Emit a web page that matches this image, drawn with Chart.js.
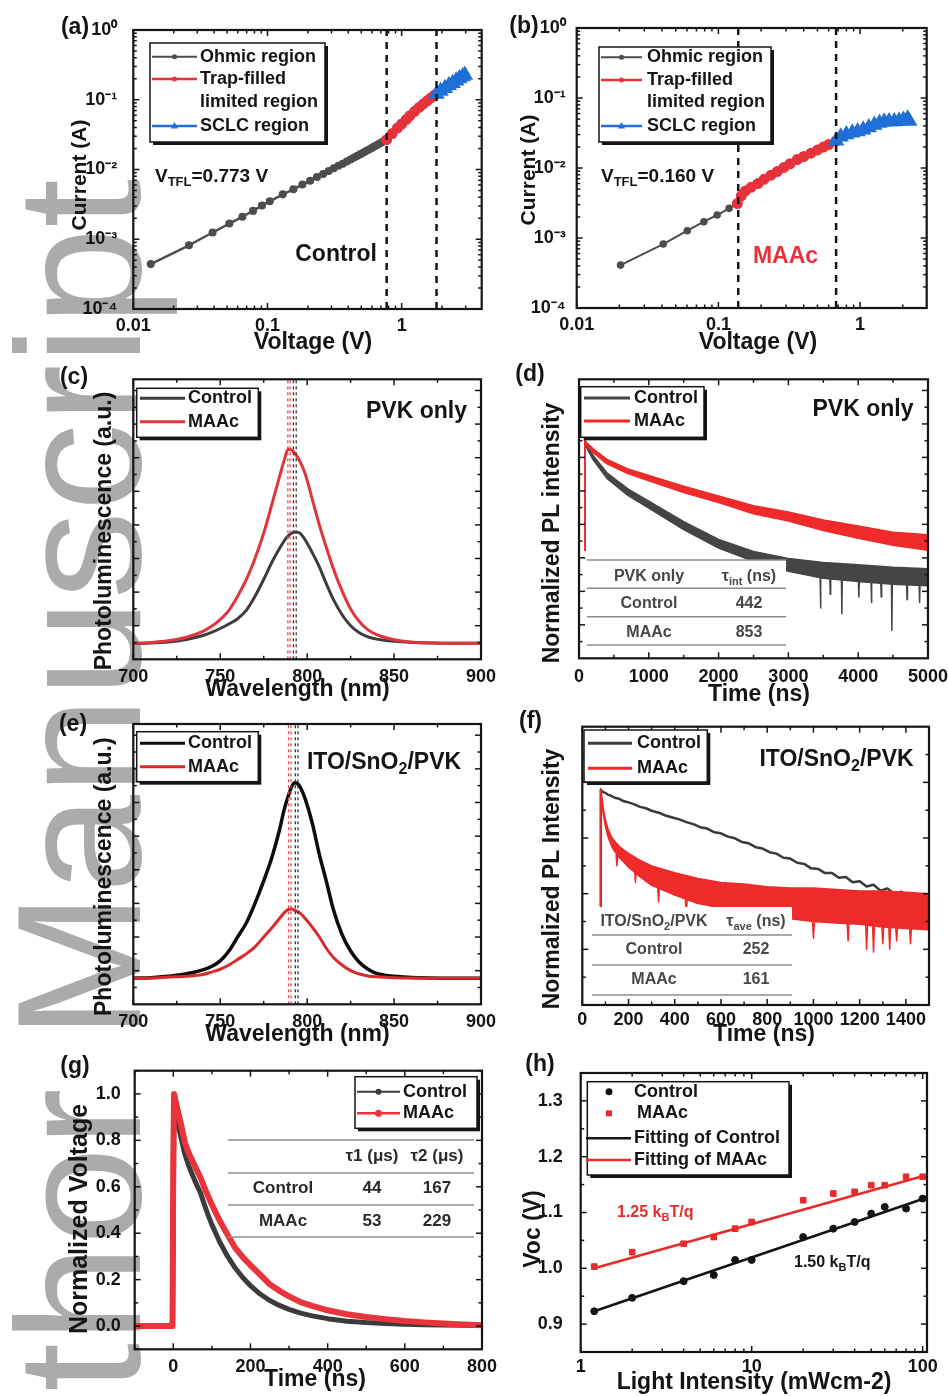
<!DOCTYPE html>
<html>
<head>
<meta charset="utf-8">
<title>SCLC, PL, TRPL, TPV and Voc-light intensity</title>
<script src="https://cdn.jsdelivr.net/npm/chart.js@4.4.1/dist/chart.umd.min.js"></script>
<style>
  html, body { margin: 0; padding: 0; background: #fff; }
  body { position: relative; width: 948px; height: 1396px; overflow: hidden; }
  #wm { position: absolute; left: -9px; top: 1607px; transform-origin: 0 0; transform: rotate(-90deg);
        font: 176px 'Liberation Sans', Arial, sans-serif; line-height: 1; color: #ababab; white-space: nowrap; }
  canvas { position: absolute; }
</style>
</head>
<body>
<div id="wm">Author Manuscript</div>
<canvas id="pa"></canvas>
<canvas id="pb"></canvas>
<canvas id="pc"></canvas>
<canvas id="pd"></canvas>
<canvas id="pe"></canvas>
<canvas id="pf"></canvas>
<canvas id="pg"></canvas>
<canvas id="ph"></canvas>
<script>
const FAMILY = "'Liberation Sans', Arial, Helvetica, sans-serif";
const INK = '#141414';
const GRAY = '#4d4d4d';
const RED = '#e6323a';
const BLUE = '#1f6fd6';
const TITLE = 23;   // axis titles
const NOTE = 23;    // in-plot annotations and panel letters

// ---- (a) SCLC, control ----
const aXTicks = [0.01, 0.1, 1];
const aXLabels = ['0.01', '0.1', '1'];
const logYTicks = [1e-4, 1e-3, 1e-2, 1e-1, 1];
const logYLabels = ['10\u207B\u2074', '10\u207B\u00B3', '10\u207B\u00B2', '10\u207B\u00B9', '10\u2070'];
const aOhmicV = [0.0135, 0.026, 0.039, 0.052, 0.065, 0.078, 0.091, 0.104, 0.13, 0.156, 0.182, 0.208, 0.234, 0.26, 0.286, 0.312, 0.338, 0.364, 0.39, 0.416, 0.442, 0.468, 0.494, 0.52, 0.546, 0.572, 0.598, 0.624, 0.65, 0.676, 0.702, 0.728, 0.754, 0.773];
const aOhmicI = [4.4e-4, 8.2e-4, 1.25e-3, 1.68e-3, 2.1e-3, 2.55e-3, 3.05e-3, 3.5e-3, 4.4e-3, 5.2e-3, 6.1e-3, 6.9e-3, 7.8e-3, 8.6e-3, 9.5e-3, 0.0104, 0.0113, 0.0121, 0.013, 0.0139, 0.0148, 0.0157, 0.0166, 0.0175, 0.0185, 0.0194, 0.0203, 0.0213, 0.0222, 0.0232, 0.0242, 0.0252, 0.0262, 0.0268];
const aTrapV = [0.773, 0.85, 0.93, 1.0, 1.08, 1.15, 1.25, 1.35, 1.45, 1.55, 1.65, 1.75, 1.82];
const aTrapI = [0.0268, 0.0327, 0.0392, 0.0449, 0.052, 0.0588, 0.0682, 0.0776, 0.0871, 0.0966, 0.106, 0.1156, 0.121];
const aSclcV = [1.82, 1.95, 2.1, 2.25, 2.4, 2.55, 2.7, 2.85, 2.96];
const aSclcI = [0.121, 0.1333, 0.146, 0.1595, 0.173, 0.187, 0.201, 0.215, 0.2255];
const aBounds = [0.773, 1.82];

// ---- (b) SCLC, MAAc ----
const bXTicks = [0.01, 0.1, 1];
const bXLabels = ['0.01', '0.1', '1'];
const bOhmicV = [0.0204, 0.0408, 0.0603, 0.079, 0.098, 0.119, 0.136];
const bOhmicI = [4.1e-4, 8.2e-4, 1.27e-3, 1.71e-3, 2.13e-3, 2.65e-3, 3.1e-3];
const bTrapV = [0.136, 0.145, 0.155, 0.17, 0.19, 0.21, 0.235, 0.26, 0.29, 0.32, 0.36, 0.4, 0.45, 0.5, 0.55, 0.6, 0.677];
const bTrapI = [3.1e-3, 4.0e-3, 4.7e-3, 5.3e-3, 6.0e-3, 6.9e-3, 7.9e-3, 8.9e-3, 0.0102, 0.0115, 0.0132, 0.0146, 0.0163, 0.0181, 0.0199, 0.0216, 0.0245];
const bSclcV = [0.677, 0.73, 0.8, 0.88, 0.96, 1.05, 1.15, 1.26, 1.37, 1.48, 1.6, 1.74, 1.88, 2.02, 2.16, 2.22];
const bSclcI = [0.0245, 0.0279, 0.03, 0.0318, 0.0332, 0.0352, 0.0378, 0.041, 0.044, 0.0458, 0.0462, 0.046, 0.047, 0.0485, 0.0505, 0.047];
const bBounds = [0.138, 0.677];

// ---- (c)/(e) steady-state PL ----
const plXTicks = [700, 750, 800, 850, 900];
const plXLabels = ['700', '750', '800', '850', '900'];
const plWave = [700, 710, 720, 730, 740, 745, 750, 755, 760, 765, 770, 775, 780, 784, 787, 789, 791, 793, 796, 799, 803, 807, 811, 815, 820, 825, 830, 835, 840, 850, 860, 870, 885, 900];
const cControl = [0.056, 0.058, 0.062, 0.07, 0.085, 0.096, 0.11, 0.126, 0.145, 0.175, 0.225, 0.285, 0.35, 0.395, 0.425, 0.44, 0.45, 0.455, 0.45, 0.425, 0.38, 0.33, 0.27, 0.215, 0.16, 0.12, 0.095, 0.08, 0.072, 0.064, 0.06, 0.058, 0.057, 0.057];
const cMaac = [0.057, 0.06, 0.066, 0.078, 0.1, 0.118, 0.142, 0.175, 0.225, 0.285, 0.36, 0.45, 0.56, 0.65, 0.715, 0.75, 0.748, 0.735, 0.705, 0.66, 0.57, 0.48, 0.4, 0.325, 0.245, 0.18, 0.135, 0.105, 0.088, 0.07, 0.062, 0.059, 0.057, 0.057];
const cPeakMaac = [788.9, 790.2];
const cPeakControl = [792.1, 793.7];
const eControl = [0.093, 0.095, 0.1, 0.108, 0.123, 0.135, 0.155, 0.19, 0.24, 0.29, 0.36, 0.44, 0.53, 0.62, 0.7, 0.74, 0.775, 0.79, 0.775, 0.73, 0.645, 0.535, 0.44, 0.34, 0.25, 0.19, 0.15, 0.125, 0.11, 0.1, 0.096, 0.094, 0.093, 0.093];
const eMaac = [0.093, 0.094, 0.097, 0.1, 0.106, 0.115, 0.125, 0.14, 0.16, 0.18, 0.205, 0.24, 0.275, 0.305, 0.328, 0.338, 0.34, 0.335, 0.325, 0.305, 0.275, 0.24, 0.2, 0.168, 0.14, 0.12, 0.108, 0.101, 0.098, 0.095, 0.094, 0.093, 0.093, 0.093];
const ePeakMaac = [789.3, 790.7];
const ePeakControl = [793.2, 794.7];

// ---- (d) TRPL, PVK only: noisy traces as upper/lower envelopes ----
const dXTicks = [0, 1000, 2000, 3000, 4000, 5000];
const dXLabels = ['0', '1000', '2000', '3000', '4000', '5000'];
const dBandTime = [80, 82, 100, 200, 400, 700, 1000, 1500, 2000, 2500, 3000, 3500, 4000, 4500, 5000];
const dMaacHi = [0.387, 0.785, 0.775, 0.752, 0.713, 0.679, 0.655, 0.617, 0.582, 0.547, 0.524, 0.496, 0.474, 0.452, 0.443];
const dMaacLo = [0.387, 0.775, 0.765, 0.738, 0.697, 0.662, 0.636, 0.594, 0.558, 0.518, 0.492, 0.458, 0.43, 0.405, 0.387];
const dControlHi = [0.387, 0.785, 0.772, 0.728, 0.665, 0.607, 0.563, 0.49, 0.426, 0.383, 0.358, 0.343, 0.335, 0.326, 0.321];
const dControlLo = [0.387, 0.775, 0.76, 0.712, 0.645, 0.584, 0.538, 0.461, 0.395, 0.348, 0.312, 0.287, 0.275, 0.265, 0.26];
const dSpikeTime = [3460, 3600, 3766, 4010, 4190, 4330, 4483, 4700, 4880];
const dSpikeBase = [0.289, 0.284, 0.281, 0.275, 0.272, 0.269, 0.266, 0.263, 0.261];
const dSpikeDepth = [0.18, 0.23, 0.16, 0.22, 0.2, 0.22, 0.1, 0.21, 0.2];
const dTableRows = [['Control', '442'], ['MAAc', '853']];

// ---- (f) TRPL, ITO/SnO2/PVK ----
const fXTicks = [0, 200, 400, 600, 800, 1000, 1200, 1400];
const fXLabels = ['0', '200', '400', '600', '800', '1000', '1200', '1400'];
const fTime = [78, 80, 90, 100, 110, 125, 140, 160, 180, 200, 225, 250, 275, 300, 330, 360, 390, 420, 450, 480, 510, 540, 570, 600, 630, 660, 690, 720, 750, 780, 810, 840, 870, 900, 930, 960, 990, 1020, 1050, 1080, 1110, 1140, 1170, 1200, 1230, 1260, 1290, 1320, 1350, 1380, 1410, 1440, 1470, 1500];
const fControl = [0.354, 0.773, 0.765, 0.762, 0.756, 0.752, 0.745, 0.741, 0.732, 0.728, 0.721, 0.712, 0.707, 0.698, 0.691, 0.681, 0.674, 0.667, 0.657, 0.65, 0.639, 0.634, 0.621, 0.617, 0.605, 0.599, 0.586, 0.581, 0.567, 0.562, 0.549, 0.544, 0.529, 0.526, 0.511, 0.507, 0.491, 0.489, 0.474, 0.474, 0.457, 0.46, 0.441, 0.445, 0.426, 0.432, 0.411, 0.419, 0.399, 0.407, 0.386, 0.396, 0.373, 0.383];
const fBandTime = [78, 80, 90, 100, 110, 125, 140, 160, 180, 200, 250, 300, 400, 500, 600, 700, 800, 900, 1000, 1100, 1200, 1300, 1400, 1500];
const fMaacHi = [0.354, 0.778, 0.71, 0.667, 0.636, 0.606, 0.588, 0.57, 0.557, 0.545, 0.52, 0.5, 0.475, 0.455, 0.44, 0.435, 0.425, 0.42, 0.42, 0.415, 0.41, 0.41, 0.405, 0.4];
const fMaacLo = [0.354, 0.768, 0.69, 0.643, 0.608, 0.574, 0.552, 0.53, 0.513, 0.495, 0.46, 0.43, 0.395, 0.365, 0.35, 0.335, 0.325, 0.31, 0.3, 0.295, 0.29, 0.28, 0.275, 0.27];
const fSpikeTime = [150, 230, 330, 450, 560, 650, 1000, 1150, 1230, 1260, 1300, 1330, 1360, 1420];
const fSpikeBase = [0.54, 0.49, 0.43, 0.38, 0.355, 0.34, 0.3, 0.292, 0.29, 0.288, 0.28, 0.28, 0.278, 0.275];
const fSpikeDepth = [0.5, 0.44, 0.37, 0.33, 0.3, 0.29, 0.24, 0.23, 0.2, 0.19, 0.22, 0.2, 0.23, 0.22];
const fTableRows = [['Control', '252'], ['MAAc', '161']];

// ---- (g) transient photovoltage ----
const gXTicks = [0, 200, 400, 600, 800];
const gXLabels = ['0', '200', '400', '600', '800'];
const gYTicks = [0, 0.2, 0.4, 0.6, 0.8, 1.0];
const gYLabels = ['0.0', '0.2', '0.4', '0.6', '0.8', '1.0'];
const gTime = [-100, -80, -60, -40, -20, -2, 0, 2, 10, 20, 30, 40, 50, 60, 70, 80, 90, 100, 120, 140, 160, 180, 200, 225, 250, 275, 300, 330, 360, 400, 450, 500, 550, 600, 650, 700, 750, 800];
const gControl = [0, 0, 0, 0, 0, 0, 0.45, 0.96, 0.89, 0.81, 0.74, 0.69, 0.65, 0.61, 0.576, 0.526, 0.479, 0.437, 0.363, 0.302, 0.251, 0.209, 0.174, 0.138, 0.11, 0.089, 0.072, 0.056, 0.044, 0.032, 0.021, 0.015, 0.011, 0.008, 0.006, 0.005, 0.004, 0.003];
const gMaac = [0, 0, 0, 0, 0, 0, 0.72, 1.0, 0.94, 0.87, 0.79, 0.745, 0.71, 0.675, 0.642, 0.6, 0.56, 0.523, 0.455, 0.395, 0.338, 0.297, 0.262, 0.222, 0.18, 0.152, 0.128, 0.103, 0.087, 0.068, 0.051, 0.039, 0.03, 0.022, 0.016, 0.011, 0.007, 0.004];
const gTableHead = ['\u03C41 (\u03BCs)', '\u03C42 (\u03BCs)'];
const gTableRows = [['Control', '44', '167'], ['MAAc', '53', '229']];

// ---- (h) Voc vs light intensity ----
const hXTicks = [1, 10, 100];
const hXLabels = ['1', '10', '100'];
const hYTicks = [0.9, 1.0, 1.1, 1.2, 1.3];
const hYLabels = ['0.9', '1.0', '1.1', '1.2', '1.3'];
const hIntensity = [1.2, 2, 4, 6, 8, 10, 20, 30, 40, 50, 60, 80, 100];
const hControl = [0.923, 0.947, 0.977, 0.988, 1.015, 1.015, 1.056, 1.071, 1.083, 1.098, 1.11, 1.107, 1.125];
const hMaac = [1.003, 1.029, 1.044, 1.056, 1.071, 1.083, 1.122, 1.134, 1.137, 1.149, 1.149, 1.164, 1.164];
const hFitX = [1.2, 102];
const hFitControl = [0.923, 1.125];
const hFitMaac = [1.0, 1.166];

Chart.defaults.font.family = FAMILY;
Chart.defaults.font.size = 18;
Chart.defaults.font.weight = 'bold';
Chart.defaults.color = INK;
Chart.defaults.animation = false;
Chart.defaults.responsive = false;
Chart.defaults.devicePixelRatio = 1;
Chart.defaults.elements.point.radius = 0;
Chart.defaults.elements.line.borderJoinStyle = 'round';

const pts = (xs, ys) => xs.map((x, i) => ({ x, y: ys[i] }));
const vline = (x, y0, y1, color, width, dash) => ({
  data: [{ x, y: y0 }, { x, y: y1 }], borderColor: color, borderWidth: width,
  borderDash: dash, borderCapStyle: 'butt', pointRadius: 0, order: 0
});
// noisy trace drawn as a filled band between its upper and lower envelope
const band = (xs, hi, lo, color, order) => [
  { data: pts(xs, hi), borderColor: color, borderWidth: 1.5, backgroundColor: color, fill: false, order },
  { data: pts(xs, lo), borderColor: color, borderWidth: 1.5, backgroundColor: color, fill: '-1', order }
];
// narrow downward noise spikes
const spikes = (ts, base, depth, color, half, order) => ({
  data: ts.flatMap((t, i) => [{ x: t - half, y: base[i] }, { x: t, y: depth[i] }, { x: t + half, y: base[i] }, { x: t + half * 1.01, y: null }]),
  borderColor: color, borderWidth: 1.5, spanGaps: false, order
});
function steps(a, b, s) { const out = []; for (let v = a; v <= b + 1e-9; v += s) out.push(+v.toFixed(6)); return out; }
function minorLog(lo, hi) {
  const out = [];
  for (let e = Math.floor(Math.log10(lo)); e <= Math.ceil(Math.log10(hi)); e++)
    for (let m = 2; m <= 9; m++) { const v = m * Math.pow(10, e); if (v > lo && v < hi) out.push(v); }
  return out;
}
function axis(type, min, max, ticks, labels, show, pad) {
  return {
    type, min, max,
    grid: { display: false }, border: { display: false },
    ticks: { display: show, padding: pad, autoSkip: false, maxRotation: 0, minRotation: 0,
             callback: (v, i) => labels[i] },
    afterBuildTicks: s => { s.ticks = ticks.map(v => ({ value: v })); }
  };
}

// ---- text helpers ----
function drawRich(ctx, parts, x, y, size, color, align) {
  const segs = parts.map(p => Array.isArray(p) ? { s: p[0], sub: true } : { s: p, sub: false });
  const fnt = sg => `bold ${sg.sub ? Math.round(size * 0.68) : size}px ${FAMILY}`;
  let w = 0;
  segs.forEach(sg => { ctx.font = fnt(sg); sg.w = ctx.measureText(sg.s).width; w += sg.w; });
  let cx = align === 'center' ? x - w / 2 : align === 'right' ? x - w : x;
  ctx.fillStyle = color; ctx.textAlign = 'left'; ctx.textBaseline = 'middle';
  segs.forEach(sg => { ctx.font = fnt(sg); ctx.fillText(sg.s, cx, sg.sub ? y + size * 0.3 : y); cx += sg.w; });
}
function drawText(ctx, t) {
  ctx.save();
  ctx.translate(t.x, t.y);
  if (t.rot) ctx.rotate(-Math.PI / 2);
  drawRich(ctx, t.t, 0, 0, t.size, t.color || INK, t.align || 'center');
  ctx.restore();
}
function drawMarker(ctx, kind, x, y, r, color) {
  ctx.fillStyle = color;
  ctx.beginPath();
  if (kind === 'rect') ctx.rect(x - r, y - r, 2 * r, 2 * r);
  else if (kind === 'triangle') { ctx.moveTo(x, y - r * 1.3); ctx.lineTo(x + r * 1.2, y + r * 0.8); ctx.lineTo(x - r * 1.2, y + r * 0.8); ctx.closePath(); }
  else ctx.arc(x, y, r, 0, Math.PI * 2);
  ctx.fill();
}
function drawLegend(ctx, L) {
  const [x, y, w, h] = L.box;
  ctx.fillStyle = INK; ctx.fillRect(x + 3, y + 3, w, h);
  ctx.fillStyle = '#fff'; ctx.fillRect(x, y, w, h);
  ctx.strokeStyle = INK; ctx.lineWidth = 1.5; ctx.strokeRect(x, y, w, h);
  L.items.forEach(it => {
    if (it.lw) {
      ctx.strokeStyle = it.color; ctx.lineWidth = it.lw; ctx.lineCap = 'butt';
      ctx.beginPath(); ctx.moveTo(it.x0, it.y); ctx.lineTo(it.x1, it.y); ctx.stroke();
    }
    if (it.marker) drawMarker(ctx, it.marker, it.mx !== undefined ? it.mx : (it.x0 + it.x1) / 2, it.y, it.ms || 3, it.color);
    drawRich(ctx, it.text, it.tx, it.y, 18, INK, 'left');
  });
}
function drawTable(ctx, T) {
  if (T.fill) { ctx.fillStyle = '#fff'; ctx.fillRect(T.fill[0], T.fill[1], T.fill[2], T.fill[3]); }
  ctx.strokeStyle = '#8c8c8c'; ctx.lineWidth = 1.5;
  T.lines.forEach(yy => { ctx.beginPath(); ctx.moveTo(T.x0, yy); ctx.lineTo(T.x1, yy); ctx.stroke(); });
  T.cells.forEach(c => drawRich(ctx, c[0], c[1], c[2], T.size, T.color, 'center'));
}
function tableCells(head, headCols, rows, cols, ys) {
  const cells = head.map((h, i) => [h, headCols[i], ys[0]]);
  rows.forEach((r, j) => r.forEach((c, i) => cells.push([[c], cols[i], ys[j + 1]])));
  return cells;
}
function drawFrame(chart, d) {
  const { ctx, chartArea: a } = chart;
  const sx = chart.scales.x, sy = chart.scales.y;
  ctx.save();
  ctx.strokeStyle = INK; ctx.lineCap = 'butt';
  const seg = (x0, y0, x1, y1) => { ctx.beginPath(); ctx.moveTo(x0, y0); ctx.lineTo(x1, y1); ctx.stroke(); };
  ctx.lineWidth = 1.5;
  const xt = (vals, len) => vals.forEach(v => {
    const p = sx.getPixelForValue(v); if (p < a.left - 0.5 || p > a.right + 0.5) return;
    seg(p, a.bottom, p, a.bottom - len); seg(p, a.top, p, a.top + len);
  });
  const yt = (vals, len) => vals.forEach(v => {
    const p = sy.getPixelForValue(v); if (p < a.top - 0.5 || p > a.bottom + 0.5) return;
    seg(a.left, p, a.left + len, p); seg(a.right, p, a.right - len, p);
  });
  xt(d.xMajor, 6); xt(d.xMinor, 3.5); yt(d.yMajor, 6); yt(d.yMinor, 3.5);
  ctx.lineWidth = 2.2;
  ctx.strokeRect(a.left, a.top, a.right - a.left, a.bottom - a.top);
  ctx.restore();
}

const DECOR = {};
const decorPlugin = {
  id: 'decor',
  afterDraw(chart) {
    const d = DECOR[chart.canvas.id];
    if (!d) return;
    const ctx = chart.ctx;
    ctx.save(); ctx.translate(-d.ox, -d.oy);
    if (d.table) drawTable(ctx, d.table);
    ctx.restore();
    drawFrame(chart, d);
    ctx.save(); ctx.translate(-d.ox, -d.oy);
    if (d.legend) drawLegend(ctx, d.legend);
    d.texts.forEach(t => drawText(ctx, t));
    ctx.restore();
  }
};

function panel(id, box, area, datasets, scales, decor) {
  const cv = document.getElementById(id);
  cv.width = box[2]; cv.height = box[3];
  cv.style.left = box[0] + 'px'; cv.style.top = box[1] + 'px';
  const YW = 60, XH = 30;
  scales.x.afterFit = s => { s.height = XH; };
  scales.y.afterFit = s => { s.width = YW; };
  DECOR[id] = Object.assign({ ox: box[0], oy: box[1], xMinor: [], yMinor: [] }, decor);
  return new Chart(cv, {
    type: 'line',
    data: { datasets },
    options: {
      layout: { padding: {
        left: area[0] - box[0] - YW, top: area[1] - box[1],
        right: box[0] + box[2] - area[2], bottom: box[1] + box[3] - area[3] - XH } },
      scales,
      plugins: { legend: { display: false }, tooltip: { enabled: false } }
    },
    plugins: [decorPlugin]
  });
}
const sclcLegend = (x, y, w, h, x0, x1, tx, rows) => ({
  box: [x, y, w, h],
  items: [
    { y: rows[0], x0, x1, tx, color: GRAY, lw: 2, marker: 'circle', ms: 2.5, text: ['Ohmic region'] },
    { y: rows[1], x0, x1, tx, color: RED, lw: 2.5, marker: 'circle', ms: 2.5, text: ['Trap-filled'] },
    { y: rows[2], tx, text: ['limited region'] },
    { y: rows[3], x0, x1, tx, color: BLUE, lw: 2.5, marker: 'triangle', ms: 3, text: ['SCLC region'] }
  ]
});
const pairLegend = (x, y, w, h, x0, x1, tx, rows, c1, c2, lw) => ({
  box: [x, y, w, h],
  items: [
    { y: rows[0], x0, x1, tx, color: c1, lw, text: ['Control'] },
    { y: rows[1], x0, x1, tx, color: c2, lw, text: ['MAAc'] }
  ]
});

// ---------- (a) ----------
panel('pa', [0, 0, 520, 362], [133.3, 30, 481.7, 309], [
  ...aBounds.map(v => vline(v, 1e-4, 1, INK, 2.5, [7, 6])),
  { data: pts(aSclcV, aSclcI), borderColor: BLUE, borderWidth: 7, pointRadius: 2.5, pointStyle: 'triangle', pointBackgroundColor: BLUE, pointBorderColor: BLUE, order: 1 },
  { data: pts(aTrapV, aTrapI), borderColor: RED, borderWidth: 6, pointRadius: 2.5, pointBackgroundColor: RED, pointBorderColor: RED, order: 2 },
  { data: pts(aOhmicV, aOhmicI), borderColor: GRAY, borderWidth: 2.5, pointRadius: 2.8, pointBackgroundColor: GRAY, pointBorderColor: GRAY, order: 3 }
], {
  x: axis('logarithmic', 0.01, 3.95, aXTicks, aXLabels, true, -2),
  y: axis('logarithmic', 1e-4, 1, logYTicks, logYLabels, true, 8)
}, {
  xMajor: aXTicks, xMinor: minorLog(0.01, 3.95), yMajor: logYTicks, yMinor: minorLog(1e-4, 1),
  legend: sclcLegend(150, 43, 175, 99, 152, 197, 200, [56.7, 79, 102.3, 126]),
  texts: [
    { t: ['(a)'], x: 75, y: 28, size: NOTE },
    { t: ['Current (A)'], x: 80, y: 175, size: 21, rot: true },
    { t: ['Voltage (V)'], x: 313, y: 343, size: TITLE },
    { t: ['V', ['TFL'], '=0.773 V'], x: 155, y: 177, size: 19, align: 'left' },
    { t: ['Control'], x: 377, y: 255, size: NOTE, align: 'right' }
  ]
});

// ---------- (b) ----------
panel('pb', [480, 0, 468, 362], [576.7, 28, 926.7, 308], [
  ...bBounds.map(v => vline(v, 1e-4, 1, INK, 2.5, [7, 6])),
  { data: pts(bSclcV, bSclcI), borderColor: BLUE, borderWidth: 7, pointRadius: 2.5, pointStyle: 'triangle', pointBackgroundColor: BLUE, pointBorderColor: BLUE, order: 1 },
  { data: pts(bTrapV, bTrapI), borderColor: RED, borderWidth: 6, pointRadius: 2.5, pointBackgroundColor: RED, pointBorderColor: RED, order: 2 },
  { data: pts(bOhmicV, bOhmicI), borderColor: GRAY, borderWidth: 2, pointRadius: 2.8, pointBackgroundColor: GRAY, pointBorderColor: GRAY, order: 3 }
], {
  x: axis('logarithmic', 0.01, 2.95, bXTicks, bXLabels, true, -2),
  y: axis('logarithmic', 1e-4, 1, logYTicks, logYLabels, true, 3)
}, {
  xMajor: bXTicks, xMinor: minorLog(0.01, 2.95), yMajor: logYTicks, yMinor: minorLog(1e-4, 1),
  legend: sclcLegend(599, 47, 172, 95, 601, 642, 647, [57.3, 80, 102.3, 126]),
  texts: [
    { t: ['(b)'], x: 524, y: 27, size: NOTE },
    { t: ['Current (A)'], x: 529, y: 170, size: 21, rot: true },
    { t: ['Voltage (V)'], x: 758, y: 343, size: TITLE },
    { t: ['V', ['TFL'], '=0.160 V'], x: 601, y: 177, size: 19, align: 'left' },
    { t: ['MAAc'], x: 785.5, y: 257, size: NOTE, color: RED }
  ]
});

// ---------- (c) ----------
const plYMajor = steps(0.12, 0.96, 0.12);
const plYMinor = steps(0.06, 0.9, 0.12);
panel('pc', [0, 352, 520, 356], [133.3, 379.3, 481, 659.3], [
  ...cPeakMaac.map(v => vline(v, 0, 1, '#d9505a', 1.3, [3, 3])),
  ...cPeakControl.map(v => vline(v, 0, 1, '#333', 1.3, [3, 3])),
  { data: pts(plWave, cMaac), borderColor: '#e0353d', borderWidth: 3, cubicInterpolationMode: 'monotone', order: 1 },
  { data: pts(plWave, cControl), borderColor: '#3d3d3d', borderWidth: 3, cubicInterpolationMode: 'monotone', order: 2 }
], {
  x: axis('linear', 700, 900, plXTicks, plXLabels, true, -1),
  y: axis('linear', 0, 1, plYMajor, plYMajor.map(() => ''), false, 6)
}, {
  xMajor: plXTicks, xMinor: [725, 775, 825, 875], yMajor: plYMajor, yMinor: plYMinor,
  legend: pairLegend(136.7, 388.3, 121.6, 49, 140, 185, 188, [398.3, 421.7], '#3d3d3d', '#e0353d', 3),
  texts: [
    { t: ['(c)'], x: 74, y: 378, size: NOTE },
    { t: ['Photoluminescence (a.u.)'], x: 105, y: 531, size: TITLE, rot: true },
    { t: ['Wavelength (nm)'], x: 297.5, y: 690, size: TITLE },
    { t: ['PVK only'], x: 416.5, y: 411.7, size: NOTE }
  ]
});

// ---------- (d) ----------
panel('pd', [480, 352, 468, 356], [579, 379.3, 928, 658.3], [
  ...band(dBandTime, dMaacHi, dMaacLo, '#ee2a2a', 1),
  ...band(dBandTime, dControlHi, dControlLo, '#454545', 2),
  spikes(dSpikeTime, dSpikeBase, dSpikeDepth, '#454545', 6, 2)
], {
  x: axis('linear', 0, 5000, dXTicks, dXLabels, true, 0),
  y: axis('linear', 0, 1, plYMajor, plYMajor.map(() => ''), false, 6)
}, {
  xMajor: dXTicks, xMinor: steps(500, 4500, 1000), yMajor: plYMajor, yMinor: plYMinor,
  legend: pairLegend(580.7, 386.7, 123.3, 50.6, 584, 630, 634, [398, 421], '#454545', '#ee2a2a', 3),
  table: {
    fill: [587, 560, 199, 85], x0: 587, x1: 786, lines: [560, 588.3, 616.7, 645],
    size: 16, color: '#474747',
    cells: tableCells([['PVK only'], ['\u03C4', ['int'], ' (ns)']], [649, 749], dTableRows, [649, 749], [576.7, 604, 632.7])
  },
  texts: [
    { t: ['(d)'], x: 530, y: 375, size: NOTE },
    { t: ['Normalized PL intensity'], x: 552.3, y: 533, size: TITLE, rot: true },
    { t: ['Time (ns)'], x: 759, y: 695, size: TITLE },
    { t: ['PVK only'], x: 863, y: 410, size: NOTE }
  ]
});

// ---------- (e) ----------
panel('pe', [0, 700, 520, 360], [133.3, 724, 481, 1004.3], [
  ...ePeakMaac.map(v => vline(v, 0, 1, '#d9505a', 1.3, [3, 3])),
  ...ePeakControl.map(v => vline(v, 0, 1, '#333', 1.3, [3, 3])),
  { data: pts(plWave, eMaac), borderColor: '#d92b2b', borderWidth: 3, cubicInterpolationMode: 'monotone', order: 1 },
  { data: pts(plWave, eControl), borderColor: '#0d0d0d', borderWidth: 3.5, cubicInterpolationMode: 'monotone', order: 2 }
], {
  x: axis('linear', 700, 900, plXTicks, plXLabels, true, -1),
  y: axis('linear', 0, 1, plYMajor, plYMajor.map(() => ''), false, 6)
}, {
  xMajor: plXTicks, xMinor: [725, 775, 825, 875], yMajor: plYMajor, yMinor: plYMinor,
  legend: pairLegend(136.7, 731.7, 121.6, 50, 140, 185, 188, [743.3, 766.7], '#0d0d0d', '#d92b2b', 3),
  texts: [
    { t: ['(e)'], x: 73, y: 725, size: NOTE },
    { t: ['Photoluminescence (a.u.)'], x: 105, y: 876.7, size: TITLE, rot: true },
    { t: ['Wavelength (nm)'], x: 297.5, y: 1035, size: TITLE },
    { t: ['ITO/SnO', ['2'], '/PVK'], x: 384, y: 763, size: NOTE }
  ]
});

// ---------- (f) ----------
panel('pf', [480, 700, 468, 360], [582.3, 726.7, 929, 1005], [
  ...band(fBandTime, fMaacHi, fMaacLo, '#ee2a2a', 1),
  spikes(fSpikeTime, fSpikeBase, fSpikeDepth, '#ee2a2a', 4, 1),
  { data: pts(fTime, fControl), borderColor: '#3a3a3a', borderWidth: 2.5, order: 2 }
], {
  x: axis('linear', 0, 1500, fXTicks, fXLabels, true, -4),
  y: axis('linear', 0, 1, steps(0.2, 0.8, 0.2), ['', '', '', ''], false, 6)
}, {
  xMajor: fXTicks, xMinor: steps(100, 1500, 200), yMajor: steps(0.2, 0.8, 0.2), yMinor: steps(0.1, 0.9, 0.2),
  legend: pairLegend(584, 730, 123.3, 52, 588, 632, 637, [743.3, 768.3], '#3a3a3a', '#ee2a2a', 3),
  table: {
    fill: [587, 907, 205, 93], x0: 592, x1: 792, lines: [935, 965, 995],
    size: 16, color: '#474747',
    cells: tableCells([['ITO/SnO', ['2'], '/PVK'], ['\u03C4', ['ave'], ' (ns)']], [654, 756], fTableRows, [654, 756], [921.7, 950, 980])
  },
  texts: [
    { t: ['(f)'], x: 530.5, y: 721.7, size: NOTE },
    { t: ['Normalized PL Intensity'], x: 552.3, y: 879, size: TITLE, rot: true },
    { t: ['Time (ns)'], x: 764, y: 1035, size: TITLE },
    { t: ['ITO/SnO', ['2'], '/PVK'], x: 836.5, y: 760, size: NOTE }
  ]
});

// ---------- (g) ----------
panel('pg', [0, 1050, 520, 346], [134.7, 1070.7, 482, 1349.3], [
  { data: pts(gTime, gMaac), borderColor: '#e8343a', borderWidth: 6, order: 1 },
  { data: pts(gTime, gControl), borderColor: '#3b3b3b', borderWidth: 5, order: 2 }
], {
  x: axis('linear', -100, 800, gXTicks, gXLabels, true, -1),
  y: axis('linear', -0.1, 1.1, gYTicks, gYLabels, true, 6)
}, {
  xMajor: gXTicks, xMinor: steps(-100, 700, 200), yMajor: gYTicks, yMinor: steps(-0.1, 1.1, 0.2),
  legend: {
    box: [355, 1076.7, 122, 51.6],
    items: [
      { y: 1091.7, x0: 357, x1: 400, tx: 403, color: '#3b3b3b', lw: 2, marker: 'circle', ms: 3, text: ['Control'] },
      { y: 1113.3, x0: 357, x1: 400, tx: 403, color: '#e8343a', lw: 2.5, marker: 'circle', ms: 3.5, text: ['MAAc'] }
    ]
  },
  table: {
    fill: null, x0: 228, x1: 474, lines: [1140, 1173, 1205, 1237], size: 17, color: '#2a2a2a',
    cells: tableCells([[gTableHead[0]], [gTableHead[1]]], [372, 437], gTableRows, [283, 372, 437], [1156.7, 1188.3, 1221.7])
  },
  texts: [
    { t: ['(g)'], x: 75, y: 1066.7, size: NOTE },
    { t: ['Normalized Voltage'], x: 80, y: 1219, size: 25, rot: true },
    { t: ['Time (ns)'], x: 315, y: 1380, size: TITLE }
  ]
});

// ---------- (h) ----------
panel('ph', [480, 1050, 468, 346], [580.7, 1073, 927, 1352], [
  { data: pts(hIntensity, hControl), showLine: false, pointRadius: 3.5, pointBackgroundColor: INK, pointBorderColor: INK, order: 0 },
  { data: pts(hIntensity, hMaac), showLine: false, pointStyle: 'rect', pointRadius: 4, pointBackgroundColor: '#e82a2a', pointBorderColor: '#e82a2a', order: 1 },
  { data: pts(hFitX, hFitControl), borderColor: INK, borderWidth: 2.5, order: 2 },
  { data: pts(hFitX, hFitMaac), borderColor: '#e82a2a', borderWidth: 2.5, order: 3 }
], {
  x: axis('logarithmic', 1, 106, hXTicks, hXLabels, true, -4),
  y: axis('linear', 0.85, 1.35, hYTicks, hYLabels, true, 10)
}, {
  xMajor: hXTicks, xMinor: minorLog(1, 106), yMajor: hYTicks, yMinor: steps(0.95, 1.35, 0.1),
  legend: {
    box: [587.3, 1081.7, 201.7, 93.3],
    items: [
      { y: 1091.7, mx: 609, tx: 634, color: INK, marker: 'circle', ms: 3.5, text: ['Control'] },
      { y: 1113.3, mx: 609, tx: 637, color: '#e82a2a', marker: 'rect', ms: 3, text: ['MAAc'] },
      { y: 1138.3, x0: 586, x1: 631, tx: 634, color: INK, lw: 2.5, text: ['Fitting of Control'] },
      { y: 1160, x0: 586, x1: 631, tx: 634, color: '#e82a2a', lw: 2.5, text: ['Fitting of MAAc'] }
    ]
  },
  texts: [
    { t: ['(h)'], x: 540, y: 1065, size: NOTE },
    { t: ['Voc (V)'], x: 534, y: 1229, size: TITLE, rot: true },
    { t: ['Light Intensity (mWcm-2)'], x: 754, y: 1383, size: TITLE },
    { t: ['1.25 k', ['B'], 'T/q'], x: 617, y: 1213, size: 16, align: 'left', color: '#e82a2a' },
    { t: ['1.50 k', ['B'], 'T/q'], x: 794, y: 1263, size: 16, align: 'left' }
  ]
});
</script>
</body>
</html>
